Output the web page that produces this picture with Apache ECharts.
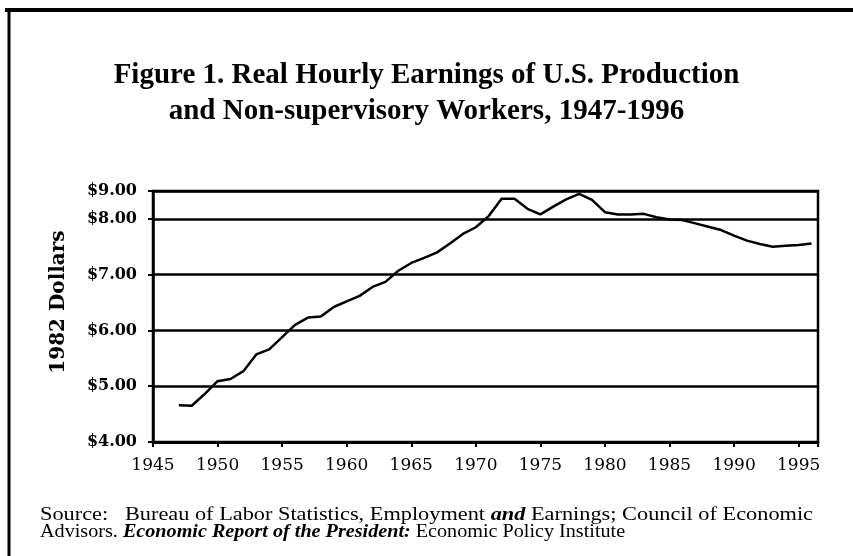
<!DOCTYPE html>
<html>
<head>
  <meta charset="utf-8">
  <title>Real Hourly Earnings 1947-1996</title>
  <script src="https://cdn.jsdelivr.net/npm/echarts@6/dist/echarts.min.js"></script>
  <style>
    html, body { margin: 0; padding: 0; background: #fff; }
    #main { width: 853px; height: 556px; }
  </style>
</head>
<body>
<div id="main"></div>
<script type="text/javascript">
// years and real hourly earnings (1982 dollars)
var years = [1947, 1948, 1949, 1950, 1951, 1952, 1953, 1954, 1955, 1956,
             1957, 1958, 1959, 1960, 1961, 1962, 1963, 1964, 1965, 1966,
             1967, 1968, 1969, 1970, 1971, 1972, 1973, 1974, 1975, 1976,
             1977, 1978, 1979, 1980, 1981, 1982, 1983, 1984, 1985, 1986,
             1987, 1988, 1989, 1990, 1991, 1992, 1993, 1994, 1995, 1996];
var earnings = [4.66, 4.65, 4.86, 5.09, 5.13, 5.27, 5.57, 5.66, 5.88, 6.10,
                6.23, 6.25, 6.42, 6.52, 6.62, 6.78, 6.87, 7.07, 7.21, 7.30,
                7.40, 7.56, 7.73, 7.85, 8.05, 8.36, 8.36, 8.18, 8.08, 8.22,
                8.35, 8.45, 8.34, 8.12, 8.08, 8.08, 8.09, 8.03, 7.99, 7.98,
                7.92, 7.86, 7.80, 7.70, 7.61, 7.55, 7.50, 7.52, 7.53, 7.56];

// y ticks; the printed figure puts its "$9.00" line only half a step above $8.00
var yTickValues = [4, 5, 6, 7, 8, 8.5];
var yTickLabels = ['$4.00', '$5.00', '$6.00', '$7.00', '$8.00', '$9.00'];

var chart = echarts.init(document.getElementById('main'));

var pts = [];
for (var i = 0; i < years.length; i++) {
    pts.push([years[i], earnings[i]]);
}

var srcFont = '18px "Liberation Serif"';
var srcBold = 'italic bold 18px "Liberation Serif"';

chart.setOption({
    animation: false,
    backgroundColor: '#fff',
    title: {
        text: 'Figure 1. Real Hourly Earnings of U.S. Production\nand Non-supervisory Workers, 1947-1996',
        left: 'center',
        top: 53,
        textStyle: {
            fontFamily: 'Liberation Serif',
            fontWeight: 'bold',
            fontSize: 29,
            lineHeight: 36,
            color: '#000'
        }
    },
    grid: {
        left: 153,
        right: 35,
        top: 191,
        bottom: 114,
        show: true,
        borderColor: '#000',
        borderWidth: 2.5
    },
    xAxis: {
        type: 'value',
        min: 1945,
        max: 1996.5,
        interval: 5,
        axisLine: { lineStyle: { color: '#000', width: 3 } },
        axisTick: { show: true, length: 5, lineStyle: { color: '#000', width: 2 } },
        splitLine: { show: false },
        axisLabel: {
            color: '#000',
            fontFamily: 'DejaVu Serif',
            fontSize: 17,
            margin: 15,
            formatter: function (v) {
                return v % 5 === 0 ? String(v) : '';
            }
        }
    },
    yAxis: {
        type: 'value',
        min: 4,
        max: 8.5,
        interval: 1,
        axisLine: { show: true, lineStyle: { color: '#000', width: 2.5 } },
        axisTick: { show: true, length: 5, lineStyle: { color: '#000', width: 2 } },
        splitLine: { show: true, lineStyle: { color: '#000', width: 2.5 } },
        axisLabel: {
            color: '#000',
            fontFamily: 'DejaVu Serif',
            fontWeight: 'bold',
            fontSize: 16,
            margin: 16,
            formatter: function (v) {
                var k = yTickValues.indexOf(v);
                return k >= 0 ? yTickLabels[k] : '';
            }
        }
    },
    series: [{
        type: 'line',
        data: pts,
        symbol: 'none',
        lineStyle: { color: '#000', width: 2.5 }
    }],
    graphic: [
        { type: 'line', shape: { x1: 5, y1: 10, x2: 853, y2: 10 }, style: { stroke: '#000', lineWidth: 4 } },
        { type: 'line', shape: { x1: 9, y1: 8, x2: 9, y2: 556 }, style: { stroke: '#000', lineWidth: 3 } },
        {
            type: 'text', x: 59, y: 302, rotation: Math.PI / 2,
            style: {
                text: '1982 Dollars',
                font: 'bold 20px "DejaVu Serif"',
                fill: '#000',
                align: 'center',
                verticalAlign: 'middle'
            }
        },
        {
            type: 'text', x: 40, y: 515, scaleX: 1.24,
            style: {
                text: 'Source:   Bureau of Labor Statistics, Employment {bi|and} Earnings; Council of Economic',
                font: srcFont,
                fill: '#000',
                verticalAlign: 'middle',
                rich: { bi: { font: srcBold, fill: '#000' } }
            }
        },
        {
            type: 'text', x: 40, y: 532, scaleX: 1.12,
            style: {
                text: 'Advisors. {bi|Economic Report of the President:} Economic Policy Institute',
                font: srcFont,
                fill: '#000',
                verticalAlign: 'middle',
                rich: { bi: { font: srcBold, fill: '#000' } }
            }
        }
    ]
});
</script>
</body>
</html>
